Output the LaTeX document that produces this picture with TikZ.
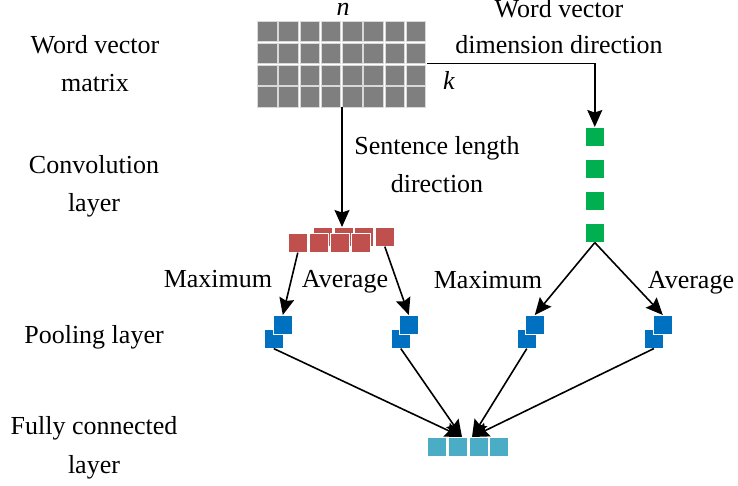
\documentclass[tikz,border=0pt]{standalone}
\usepackage{fontspec}
\setmainfont{Liberation Serif}
\usetikzlibrary{arrows.meta,calc}
\definecolor{matgray}{HTML}{7F7F7F}
\definecolor{convred}{HTML}{C0504D}
\definecolor{vecgreen}{HTML}{00B050}
\definecolor{poolblue}{HTML}{0070C0}
\definecolor{fcteal}{HTML}{4BACC6}
\begin{document}
\begin{tikzpicture}[x=1pt,y=-1pt,
  lbl/.style={font=\fontsize{26}{38.5}\selectfont, align=center, inner sep=0, anchor=base},
  arr/.style={line width=1.6pt, -{Stealth[length=17pt,width=15pt,inset=2.5pt]}},
  sq/.style={minimum size=19pt, inner sep=0, draw=white, line width=0.6pt, anchor=north west},
  cell/.style={fill=matgray, draw=white!85!black, line width=0.8pt}]
\useasboundingbox (0,0) rectangle (738,486);

% word vector matrix, 4 x 8 cells
\node[minimum width=170pt, minimum height=87pt, inner sep=0] (wvm) at (342,63.5) {};
\foreach \r in {0,...,3}
  \foreach \c in {0,...,7}
    \filldraw[cell] ({257.5+\c*21.25},{21.5+\r*21.75}) rectangle ++(19.6,20.2);
\node[lbl, font=\fontsize{26}{30}\selectfont\itshape] (nlab) at (343,16) {n};
\node[lbl, font=\fontsize{26}{30}\selectfont\itshape] (klab) at (449,90) {k};

% convolution layer: back row then front row
\foreach \j/\x in {1/313,2/334,3/354,4/375}
  \node[sq, fill=convred] (cb\j) at (\x,227) {};
\foreach \j/\x in {1/288,2/309,3/330,4/351}
  \node[sq, fill=convred] (cf\j) at (\x,233) {};

% word vector dimension column
\foreach \j/\y in {1/127,2/159,3/191,4/223}
  \node[sq, fill=vecgreen] (g\j) at (585,\y) {};

% pooling layer pairs
\foreach \i/\ux/\lx in {1/273/264,2/399/391,3/525/517,4/653/644} {
  \node[sq, fill=poolblue] (pl\i) at (\lx,329) {};
  \node[sq, fill=poolblue] (pu\i) at (\ux,315) {};
}

% fully connected layer
\foreach \j/\x in {1/427,2/448,3/469,4/489}
  \node[sq, fill=fcteal] (f\j) at (\x,437) {};
\coordinate (fcL) at (462,437);
\coordinate (fcR) at (472,437);

% connectors
\draw[arr] (wvm.south) -- (wvm.south |- cb2.north);
\draw[arr] (wvm.east) -| (g1.north);
\draw[arr] (cf1.south) -- (pu1.north);
\draw[arr] (cb4.south) -- (pu2.north);
\draw[arr] (g4.south) -- (pu3.north);
\draw[arr] (g4.south) -- (pu4.north);
\draw[arr] (pl1.south) -- (fcL);
\draw[arr] (pl2.south) -- (fcL);
\draw[arr] (pl3.south) -- (fcR);
\draw[arr] (pl4.south) -- (fcR);

% labels (base anchor sits on the last line)
\node[lbl] (lwvm) at (95,92) {Word vector\\matrix};
\node[lbl] (lconv) at (94,212) {Convolution\\layer};
\node[lbl] (lpool) at (94,343) {Pooling layer};
\node[lbl] (lfc) at (94,473) {Fully connected\\layer};
\node[lbl] (lsent) at (437,193) {Sentence length\\direction};
\node[lbl] (ldim) at (559,54) {Word vector\\[-2pt]dimension direction};
\node[lbl] (lmax1) at (218,287) {Maximum};
\node[lbl] (lavg1) at (345,287) {Average};
\node[lbl] (lmax2) at (488,288) {Maximum};
\node[lbl] (lavg2) at (691,288) {Average};
\end{tikzpicture}
\end{document}
